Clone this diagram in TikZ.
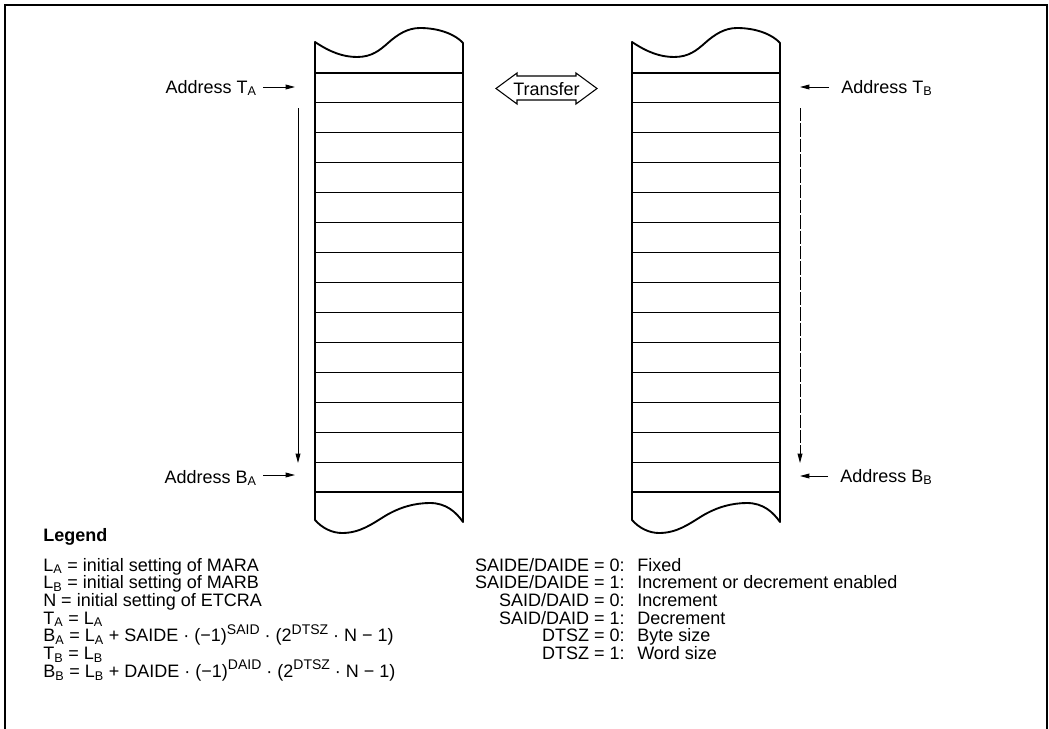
\documentclass[tikz,border=0pt]{standalone}
\usepackage{fontspec}
\setmainfont{Liberation Sans}
\usetikzlibrary{arrows.meta}
\newcommand\mysub[1]{\textsubscript{#1}}
\newcommand\mysup[1]{\raisebox{5.6pt}{\fontsize{10.5}{11}\selectfont #1}}
\newcommand\memblk[1]{%
  \begin{scope}[shift={(#1,0)}]
    \draw[blockline] (315,42) -- (315,520)
      .. controls (322,528) and (332,533) .. (342,533)
      .. controls (360,533) and (372,524) .. (385,516)
      .. controls (400,507) and (415,503) .. (430,503)
      .. controls (446,503) and (456,512) .. (463,522)
      -- (463,43)
      .. controls (456,35) and (440,28) .. (420,28)
      .. controls (408,28) and (398,34) .. (388,43)
      .. controls (380,50) and (372,57) .. (357,57)
      .. controls (343,57) and (330,52) .. (315,42) -- cycle;
    \foreach \k in {0,...,14}
      \draw[rowline] (315,{73+\k*29.93}) -- (463,{73+\k*29.93});
  \end{scope}}
\begin{document}
\begin{tikzpicture}[x=0.75pt,y=-0.75pt,
  txt/.style={font=\fontsize{13.5}{16}\selectfont, inner sep=0pt},
  blockline/.style={line width=1.4pt, line join=round},
  rowline/.style={line width=0.85pt},
  arr/.style={line width=0.7pt, -{Triangle[length=7pt,width=3.6pt]}},
  darr/.style={arr, dash pattern=on 10pt off 1.5pt},
  frameline/.style={line width=1.5pt}]
\useasboundingbox (0,0) rectangle (1049,728);
% frame
\draw[frameline] (5,735) -- (5,5) -- (1047,5) -- (1047,735);
% memory blocks
\memblk{0}
\memblk{317}
% transfer arrow
\draw[line width=0.8pt, line join=miter] (496,88.5) -- (517,73) -- (517,76) -- (576,76) -- (576,73)
  -- (597,88.5) -- (576,104) -- (576,100) -- (517,100) -- (517,104) -- cycle;
\node[txt, anchor=base] (transfer) at (546.5,95) {Transfer};
% address labels
\node[txt, anchor=base east] (lTA) at (257,93) {Address T\mysub{A}};
\node[txt, anchor=base east] (lBA) at (257,483) {Address B\mysub{A}};
\node[txt, anchor=base west] (lTB) at (841,93) {Address T\mysub{B}};
\node[txt, anchor=base west] (lBB) at (840,482) {Address B\mysub{B}};
\coordinate (pTA) at (295,87);
\coordinate (pBA) at (295,475);
\coordinate (pTB) at (800,87);
\coordinate (pBB) at (800,476);
\draw[arr] ([xshift=4.5pt]lTA.east |- pTA) -- (pTA);
\draw[arr] ([xshift=4.5pt]lBA.east |- pBA) -- (pBA);
\draw[arr] ([xshift=-9pt]lTB.west |- pTB) -- (pTB);
\draw[arr] ([xshift=-9pt]lBB.west |- pBB) -- (pBB);
% scan direction arrows
\coordinate (sA1) at (298,108);
\coordinate (sA2) at (298,463);
\coordinate (sB1) at (800,108);
\coordinate (sB2) at (800,463);
\draw[arr] (sA1) -- (sA2);
\draw[darr] (sB1) -- (sB2);
% legend
\node[txt, anchor=base west, font=\fontsize{13.5}{16}\selectfont\bfseries] (leg) at (43,541) {Legend};
\node[txt, anchor=base west] (g1) at (43,571) {L\mysub{A} = initial setting of MARA};
\node[txt, anchor=base west] (g2) at (43,588.7) {L\mysub{B} = initial setting of MARB};
\node[txt, anchor=base west] (g3) at (43,606.4) {N = initial setting of ETCRA};
\node[txt, anchor=base west] (g4) at (43,624.1) {T\mysub{A} = L\mysub{A}};
\node[txt, anchor=base west] (g5) at (43,641.8) {B\mysub{A} = L\mysub{A} + SAIDE · (−1)\mysup{SAID} · (2\mysup{DTSZ} · N − 1)};
\node[txt, anchor=base west] (g6) at (43,659.5) {T\mysub{B} = L\mysub{B}};
\node[txt, anchor=base west] (g7) at (43,677.2) {B\mysub{B} = L\mysub{B} + DAIDE · (−1)\mysup{DAID} · (2\mysup{DTSZ} · N − 1)};
% right legend column
\node[txt, anchor=base east] (k1) at (625,571) {SAIDE/DAIDE = 0:};
\node[txt, anchor=base east] (k2) at (625,588.7) {SAIDE/DAIDE = 1:};
\node[txt, anchor=base east] (k3) at (625,606.4) {SAID/DAID = 0:};
\node[txt, anchor=base east] (k4) at (625,624.1) {SAID/DAID = 1:};
\node[txt, anchor=base east] (k5) at (625,641.8) {DTSZ = 0:};
\node[txt, anchor=base east] (k6) at (625,659.5) {DTSZ = 1:};
\node[txt, anchor=base west] (v1) at (637,571) {Fixed};
\node[txt, anchor=base west] (v2) at (637,588.7) {Increment or decrement enabled};
\node[txt, anchor=base west] (v3) at (637,606.4) {Increment};
\node[txt, anchor=base west] (v4) at (637,624.1) {Decrement};
\node[txt, anchor=base west] (v5) at (637,641.8) {Byte size};
\node[txt, anchor=base west] (v6) at (637,659.5) {Word size};
\end{tikzpicture}
\end{document}
